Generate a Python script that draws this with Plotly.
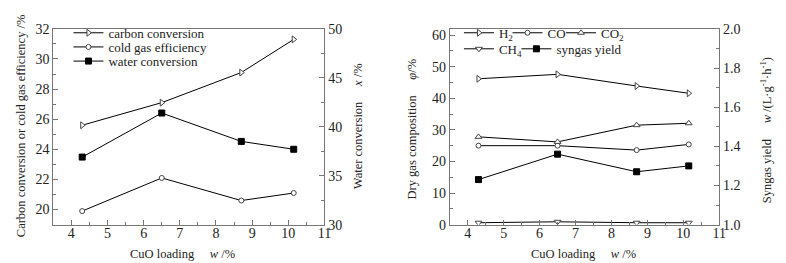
import plotly.graph_objects as go

# ---- data ----
cuo_loading = [4.3, 6.5, 8.7, 10.15]
carbon_conversion = [25.6, 27.1, 29.1, 31.3]
cold_gas_eff = [19.9, 22.1, 20.6, 21.1]
water_conversion = [36.9, 41.4, 38.5, 37.7]

h2 = [46.2, 47.6, 43.9, 41.6]
co = [25.0, 25.0, 23.6, 25.4]
co2 = [27.8, 26.2, 31.5, 32.1]
ch4 = [0.6, 0.9, 0.6, 0.6]
syngas_yield = [1.23, 1.36, 1.27, 1.30]

FONT = "Liberation Serif"
W, H = 786, 263

def px(x):
    return x / W

def py(y):
    return 1 - y / H

fig = go.Figure()

def mk(symbol, filled=False, size=6):
    if filled:
        return dict(symbol=symbol, size=size, color="black", line=dict(color="black", width=1))
    return dict(symbol=symbol, size=size, color="white", line=dict(color="#444", width=1))

line = dict(color="black", width=1)

traces = [
    (cuo_loading, carbon_conversion, "carbon conversion", mk("triangle-right"), "x", "y", "legend"),
    (cuo_loading, cold_gas_eff, "cold gas efficiency", mk("circle", size=5), "x", "y", "legend2"),
    (cuo_loading, water_conversion, "water conversion", mk("square", True, 6), "x", "y2", "legend3"),
    (cuo_loading, h2, "H<sub>2</sub>", mk("triangle-right"), "x3", "y3", "legend4"),
    (cuo_loading, co, "CO", mk("circle", size=5), "x3", "y3", "legend5"),
    (cuo_loading, co2, "CO<sub>2</sub>", mk("triangle-up"), "x3", "y3", "legend6"),
    (cuo_loading, ch4, "CH<sub>4</sub>", mk("triangle-down"), "x3", "y3", "legend7"),
    (cuo_loading, syngas_yield, "syngas yield", mk("square", True, 6), "x3", "y4", "legend8"),
]
for xs, ys, name, marker, xa, ya, lg in traces:
    fig.add_trace(go.Scatter(x=xs, y=ys, mode="lines+markers", name=name, line=line,
                             marker=marker, xaxis=xa, yaxis=ya, legend=lg))

axcol = "#777"
tickfont = dict(family=FONT, size=14, color="#222")

def xax(domain, anchor):
    return dict(domain=domain, anchor=anchor, range=[3.5, 11], dtick=1, tick0=4,
                ticks="inside", ticklen=5, tickcolor=axcol, showline=True, linecolor=axcol,
                linewidth=1, mirror=True, showgrid=False, zeroline=False, tickfont=tickfont,
                ticklabelstandoff=-4,
                minor=dict(dtick=0.5, ticks="inside", ticklen=3, tickcolor=axcol))

def yax(rng, dtick, mdtick, anchor, side="left", overlaying=None, fmt=None):
    d = dict(domain=[py(222.3), py(14.7)], anchor=anchor, range=rng, dtick=dtick,
             ticks="inside", ticklen=5, tickcolor=axcol, showline=True, linecolor=axcol,
             linewidth=1, showgrid=False, zeroline=False, tickfont=tickfont, side=side,
             minor=dict(dtick=mdtick, ticks="inside", ticklen=3, tickcolor=axcol))
    if overlaying:
        d["overlaying"] = overlaying
    if fmt:
        d["tickformat"] = fmt
    return d

xd1 = [px(45.7), px(319.3)]
xd2 = [px(445.7), px(717.7)]

OFF = 29  # legend top offset -> row centre

def lgd(x_text, y_center):
    return dict(x=px(x_text - 46), y=py(y_center - OFF), xanchor="left", yanchor="top",
                bgcolor="rgba(0,0,0,0)", font=dict(family=FONT, size=13, color="#222"),
                itemwidth=30, orientation="v")

fig.update_layout(
    width=W, height=H,
    margin=dict(l=0, r=0, t=0, b=0),
    paper_bgcolor="white", plot_bgcolor="white",
    font=dict(family=FONT, size=13, color="#222"),
    xaxis=xax(xd1, "y"),
    yaxis=yax([19, 32], 2, 1, "x"),
    yaxis2=yax([30, 50], 5, 2.5, "x", side="right", overlaying="y"),
    xaxis3=xax(xd2, "y3"),
    yaxis3=yax([0, 62], 10, 5, "x3"),
    yaxis4=yax([1.0, 2.0], 0.2, 0.1, "x3", side="right", overlaying="y3", fmt=".1f"),
    showlegend=True,
    legend=lgd(107, 32),
    legend2=lgd(107, 47),
    legend3=lgd(107, 62),
    legend4=lgd(501, 32),
    legend5=lgd(550, 32),
    legend6=lgd(604, 32),
    legend7=lgd(501, 49),
    legend8=lgd(559, 49),
)

ann_font = dict(family=FONT, size=12.5, color="#222")
sp = "&nbsp;" * 5
annotations = [
    dict(text="Carbon conversion or cold gas efficiency /%", x=px(13), y=py(117), textangle=-90),
    dict(text="Water conversion" + sp + "<i>x</i> /%", x=px(353), y=py(118), textangle=-90),
    dict(text="CuO loading" + sp + "<i>w</i> /%", x=px(176), y=py(253), textangle=0),
    dict(text="Dry gas composition" + sp + "<i>φ</i>/%", x=px(408), y=py(121), textangle=-90),
    dict(text="Syngas yield" + sp + "<i>w</i> /(L·g<sup>-1</sup>·h<sup>-1</sup>)", x=px(765), y=py(122), textangle=-90),
    dict(text="CuO loading" + sp + "<i>w</i> /%", x=px(581), y=py(253), textangle=0),
]
fig.update_layout(annotations=[dict(a, xref="paper", yref="paper", showarrow=False,
                                    xanchor="center", yanchor="middle", font=ann_font)
                               for a in annotations])

fig.write_html("out.html")
